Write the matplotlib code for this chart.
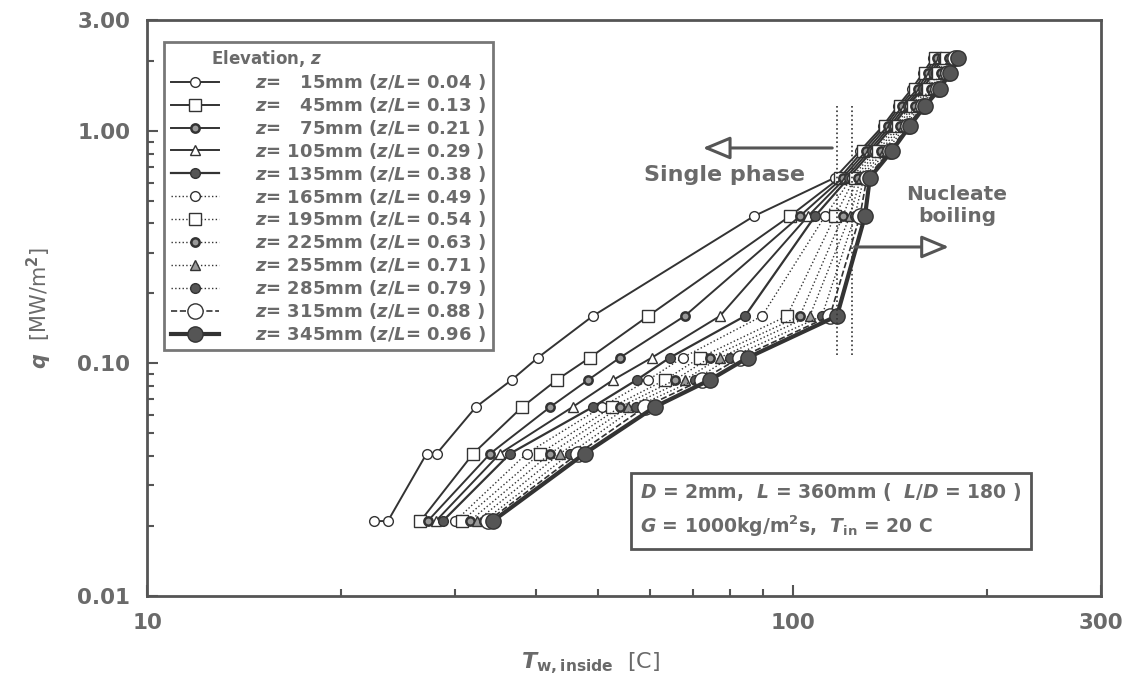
import matplotlib
matplotlib.use('Agg')
import matplotlib.pyplot as plt
from matplotlib.ticker import FixedLocator, NullFormatter, LogLocator

plt.rcParams['font.family'] = ['DejaVu Sans']
plt.rcParams['font.weight'] = 'bold'
plt.rcParams['mathtext.fontset'] = 'custom'
plt.rcParams['mathtext.it'] = 'DejaVu Sans:italic:bold'
plt.rcParams['mathtext.rm'] = 'DejaVu Sans:bold'
plt.rcParams['mathtext.bf'] = 'DejaVu Sans:bold'

TXT = '#6a6a6a'
LINE = '#333333'

# heat flux levels [MW/m2]
q_levels = [0.021, 0.041, 0.065, 0.085, 0.106, 0.16, 0.43, 0.63, 0.82, 1.05, 1.28, 1.52, 1.77, 2.05]

# z = 15 mm has repeated points at the two lowest levels
q_z15 = [0.021, 0.021, 0.041, 0.041, 0.065, 0.085, 0.106, 0.16, 0.43, 0.63, 0.82, 1.05, 1.28, 1.52, 1.77, 2.05]
T_z15 = [22.5, 23.6, 27.1, 28.1, 32.3, 36.7, 40.3, 49.0, 87.0, 116.2, 127.0, 137.8, 145.4, 152.9, 158.9, 164.7]

# inner wall temperature [C] per elevation
T_z45 = [26.5, 32.0, 38.1, 43.1, 48.5, 59.7, 98.9, 118.3, 128.3, 139.0, 146.5, 154.5, 160.3, 166.0]
T_z75 = [27.2, 34.0, 42.1, 48.2, 54.0, 68.0, 102.5, 119.5, 129.8, 140.2, 147.8, 156.0, 161.8, 167.4]
T_z105 = [28.0, 35.2, 45.6, 52.7, 60.5, 77.1, 105.5, 120.8, 131.2, 141.5, 149.2, 157.5, 163.3, 168.8]
T_z135 = [28.7, 36.5, 49.0, 57.3, 64.5, 84.3, 108.2, 122.1, 132.5, 142.8, 150.5, 159.0, 164.8, 170.2]
T_z165 = [30.0, 38.7, 50.6, 59.7, 67.5, 89.6, 112.1, 123.4, 133.9, 144.0, 152.0, 160.5, 166.3, 171.5]
T_z195 = [30.7, 40.6, 52.5, 63.4, 71.8, 97.9, 116.2, 124.7, 135.4, 145.3, 153.4, 162.0, 167.8, 172.9]
T_z225 = [31.6, 42.1, 54.0, 65.7, 74.4, 102.5, 119.5, 126.0, 136.8, 146.6, 154.8, 163.5, 169.3, 174.3]
T_z255 = [32.4, 43.6, 55.5, 68.0, 77.1, 106.2, 122.5, 127.4, 138.3, 147.9, 156.2, 165.0, 170.8, 175.7]
T_z285 = [33.2, 45.2, 57.1, 70.5, 79.9, 110.9, 124.7, 128.8, 139.8, 149.2, 157.6, 166.5, 172.2, 177.0]
T_z315 = [33.7, 46.5, 59.0, 72.3, 82.8, 114.1, 127.0, 130.2, 141.3, 150.5, 158.9, 167.8, 173.6, 178.5]
T_z345 = [34.3, 47.6, 61.1, 74.4, 85.2, 117.0, 129.3, 131.6, 142.3, 151.7, 160.1, 168.9, 175.0, 180.1]

labels = [
    '$z$=   15mm ($z$/$L$= 0.04 )',
    '$z$=   45mm ($z$/$L$= 0.13 )',
    '$z$=   75mm ($z$/$L$= 0.21 )',
    '$z$= 105mm ($z$/$L$= 0.29 )',
    '$z$= 135mm ($z$/$L$= 0.38 )',
    '$z$= 165mm ($z$/$L$= 0.49 )',
    '$z$= 195mm ($z$/$L$= 0.54 )',
    '$z$= 225mm ($z$/$L$= 0.63 )',
    '$z$= 255mm ($z$/$L$= 0.71 )',
    '$z$= 285mm ($z$/$L$= 0.79 )',
    '$z$= 315mm ($z$/$L$= 0.88 )',
    '$z$= 345mm ($z$/$L$= 0.96 )',
]

# boundary between single phase and nucleate boiling
T_onb = [117.0, 123.4]
q_onb = [0.109, 1.29]

series = [
    (T_z15, q_z15, dict(marker='o', ms=7, mfc='white', ls='-', lw=1.4)),
    (T_z45, q_levels, dict(marker='s', ms=8, mfc='white', ls='-', lw=1.4)),
    (T_z75, q_levels, dict(marker='o', ms=6, mfc='#999999', mew=1.8, ls='-', lw=1.4)),
    (T_z105, q_levels, dict(marker='^', ms=7, mfc='white', ls='-', lw=1.4)),
    (T_z135, q_levels, dict(marker='o', ms=7, mfc='#555555', ls='-', lw=1.6)),
    (T_z165, q_levels, dict(marker='o', ms=7, mfc='white', ls=':', lw=1.0)),
    (T_z195, q_levels, dict(marker='s', ms=8, mfc='white', ls=':', lw=1.0)),
    (T_z225, q_levels, dict(marker='o', ms=6, mfc='#999999', mew=1.8, ls=':', lw=1.0)),
    (T_z255, q_levels, dict(marker='^', ms=7, mfc='#999999', ls=':', lw=1.0)),
    (T_z285, q_levels, dict(marker='o', ms=7, mfc='#555555', ls=':', lw=1.0)),
    (T_z315, q_levels, dict(marker='o', ms=11, mfc='white', ls='--', lw=1.2)),
    (T_z345, q_levels, dict(marker='o', ms=11, mfc='#555555', ls='-', lw=3.0)),
]

fig = plt.figure(figsize=(11.25, 6.86), dpi=100)
ax = fig.add_axes([0.1307, 0.1312, 0.848, 0.8396])

for (T, q, style), lab in zip(series, labels):
    ax.plot(T, q, color=LINE, mec=LINE, label=lab, **style)

ax.set_xscale('log')
ax.set_yscale('log')
ax.set_xlim(10, 300)
ax.set_ylim(0.01, 3.0)

ax.xaxis.set_major_locator(FixedLocator([10, 100, 300]))
ax.set_xticklabels(['10', '100', '300'])
ax.xaxis.set_minor_locator(LogLocator(base=10, subs=range(2, 10)))
ax.xaxis.set_minor_formatter(NullFormatter())
ax.yaxis.set_major_locator(FixedLocator([0.01, 0.1, 1.0, 3.0]))
ax.set_yticklabels(['0.01', '0.10', '1.00', '3.00'])
ax.yaxis.set_minor_locator(LogLocator(base=10, subs=range(2, 10)))
ax.yaxis.set_minor_formatter(NullFormatter())
ax.tick_params(which='both', direction='in', colors='#555555', labelcolor=TXT,
               labelsize=15.5, width=1.5)
ax.tick_params(which='major', length=8, pad=12)
ax.tick_params(which='minor', length=5)
for s in ax.spines.values():
    s.set_color('#555555')
    s.set_linewidth(2)

ax.set_xlabel(r'$T_{\mathrm{w,inside}}$  [C]', fontsize=16, color=TXT)
ax.xaxis.set_label_coords(0.465, -0.095)
ax.set_ylabel(r'$q$  [MW/m$^{\mathrm{2}}$]', fontsize=15, color=TXT)
ax.yaxis.set_label_coords(-0.098, 0.5)

leg = ax.legend(loc='upper left', bbox_to_anchor=(0.018, 0.962), fontsize=13,
                title='       Elevation, $z$', title_fontsize=12, alignment='left',
                handlelength=2.7, handletextpad=2.0, labelspacing=0.16,
                fancybox=False, edgecolor='#555555', borderpad=0.35, borderaxespad=0)
leg.get_frame().set_linewidth(2)
leg.get_title().set_color(TXT)
for t in leg.get_texts():
    t.set_color(TXT)

# boundary lines
ax.plot([T_onb[0], T_onb[0]], q_onb, ls=':', color=LINE, lw=1.2)
ax.plot([T_onb[1], T_onb[1]], q_onb, ls=':', color=LINE, lw=1.2)

arrow = dict(arrowstyle='-|>,head_length=1.2,head_width=0.5', fc='white', ec='#555555',
             lw=2.2, mutation_scale=14)
ax.annotate('', xy=(71.8, 0.845), xytext=(116.2, 0.845), arrowprops=arrow)
ax.annotate('', xy=(176.2, 0.317), xytext=(123.4, 0.317), arrowprops=arrow)
ax.text(78.5, 0.647, 'Single phase', fontsize=16, color=TXT, ha='center', va='center')
ax.text(179.4, 0.476, 'Nucleate\nboiling', fontsize=14.5, color=TXT, ha='center', va='center',
        linespacing=1.2)

ax.text(0.517, 0.149, '$D$ = 2mm,  $L$ = 360mm (  $L$/$D$ = 180 )\n'
        '$G$ = 1000kg/m$^{\\mathrm{2}}$s,  $T_{\\mathrm{in}}$ = 20 C',
        transform=ax.transAxes, fontsize=13.5, color=TXT, ha='left', va='center',
        linespacing=1.55,
        bbox=dict(boxstyle='square,pad=0.5', fc='white', ec='#555555', lw=2))

fig.savefig('out.png', dpi=100, facecolor='white')
